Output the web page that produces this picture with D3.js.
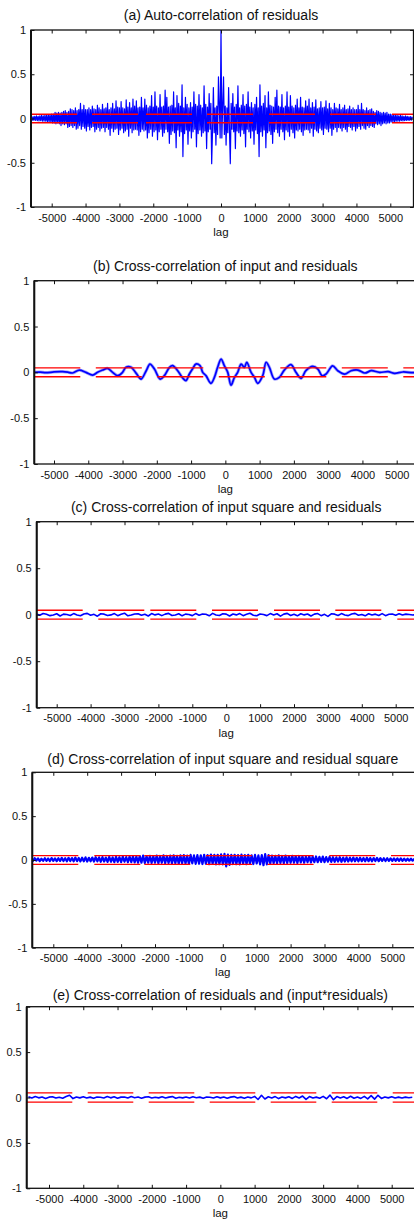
<!DOCTYPE html>
<html><head><meta charset="utf-8">
<script src="https://cdn.jsdelivr.net/npm/d3@7/dist/d3.min.js"></script>
<style>
html,body{margin:0;padding:0;background:#fff;}
svg{display:block;font-family:"Liberation Sans",Arial,sans-serif;}
</style></head>
<body>
<svg id="chart" width="414" height="1220"></svg>
<script>
// ---------------- DATA ----------------
const titles = [
  "(a) Auto-correlation of residuals",
  "(b) Cross-correlation of input and residuals",
  "(c) Cross-correlation of input square and residuals",
  "(d) Cross-correlation of input square and residual square",
  "(e) Cross-correlation of residuals and (input*residuals)"
];
const xTicks = [-5000,-4000,-3000,-2000,-1000,0,1000,2000,3000,4000,5000];
const yTicks = [-1,-0.5,0,0.5,1];
const yTickLabels = ["-1","-0.5","0","0.5","1"];
const yTickLabelsE = ["-1","0.5","0","0.5","1"];
const xLabel = "lag";
const confBound = [0.048, 0.048, 0.048, 0.05, 0.05];

// (a) auto-correlation (symmetric in lag): values for lag 0..5650, step 25
const acfStep = 25;
const acfHalf = [
 1.0,-0.22,0.15,0.47,-0.18,0.14,-0.3,0.12,-0.16,0.35,-0.13,-0.51,0.17,-0.12,0.28,-0.15,0.13,-0.34,0.16,-0.14,
 0.37,-0.16,0.12,-0.2,0.15,-0.13,0.27,-0.17,0.14,-0.32,0.16,-0.12,0.3,-0.15,0.13,-0.22,0.18,-0.14,0.12,-0.29,
 0.16,-0.13,0.24,-0.17,0.12,-0.43,0.38,-0.15,0.14,-0.2,0.17,-0.13,0.26,-0.33,0.12,-0.16,0.3,-0.14,0.15,-0.18,
 0.14,-0.28,0.13,-0.15,0.24,-0.12,0.32,-0.16,0.14,-0.2,0.13,-0.12,0.27,-0.15,0.12,-0.24,0.14,-0.13,0.3,-0.15,
 0.13,-0.2,0.26,-0.12,0.14,-0.16,0.12,-0.22,0.15,-0.13,0.22,-0.14,0.12,-0.12,0.24,-0.15,0.13,-0.19,0.12,-0.13,
 0.2,-0.12,0.14,-0.13,0.22,-0.16,0.12,-0.11,0.18,-0.2,0.13,-0.12,0.21,-0.14,0.11,-0.16,0.12,-0.11,0.19,-0.13,
 0.12,-0.18,0.13,-0.11,0.2,-0.12,0.11,-0.15,0.17,-0.11,0.12,-0.19,0.1,-0.12,0.17,-0.1,0.12,-0.15,0.11,-0.1,
 0.16,-0.11,0.1,-0.14,0.12,-0.1,0.15,-0.12,0.1,-0.15,0.11,-0.09,0.14,-0.1,0.1,-0.13,0.12,-0.09,0.1,-0.14,
 0.1,-0.11,0.15,-0.09,0.1,-0.12,0.17,-0.08,0.1,-0.11,0.09,-0.12,0.12,-0.08,0.09,-0.1,0.1,-0.08,0.11,-0.09,
 0.08,-0.1,0.07,-0.06,0.09,-0.07,0.08,-0.06,0.07,-0.08,0.06,-0.06,0.07,-0.05,0.06,-0.06,0.07,-0.05,0.05,-0.05,
 0.05,-0.04,0.045,-0.035,0.04,-0.04,0.035,-0.03,0.04,-0.03,0.03,-0.03,0.035,-0.025,0.03,-0.028,0.025,-0.025,0.03,-0.022,
 0.025,-0.022,0.022,-0.02,0.022,-0.018,0.02
];

// (b) input / residuals cross-correlation
const ccInLags = [-5620,-5400,-5240,-5000,-4750,-4600,-4460,-4260,-4070,-3870,-3730,-3580,-3440,-3290,-3140,-3000,-2900,-2750,-2600,-2460,-2310,-2200,-2070,-1900,-1780,-1630,-1540,-1390,-1245,-1150,-1050,-960,-860,-740,-660,-565,-420,-320,-225,-125,-30,70,165,265,360,460,555,625,750,850,945,1090,1190,1285,1430,1575,1720,1915,2060,2210,2350,2550,2700,2820,2940,3130,3280,3480,3670,3870,4070,4260,4500,4750,4940,5180,5470,5650];
const ccInValues = [0,0.003,-0.004,0.005,0.007,0.002,-0.007,0.025,0,-0.03,0,0.025,0.043,0,-0.036,0,0.055,0.055,-0.011,-0.073,0.018,0.09,0.036,-0.073,-0.036,0.055,0.073,0.018,-0.062,-0.09,-0.018,0.036,0.09,0.073,0,-0.036,-0.12,-0.055,0.055,0.145,0.073,0,-0.14,-0.055,0,0.09,0.055,0.11,0,-0.055,-0.12,-0.036,0.11,0.055,-0.073,-0.055,0.025,0.085,0,-0.065,0.018,0.065,0.036,-0.036,-0.018,0.07,0.018,-0.02,0.018,0.025,-0.007,0.018,0,0.007,-0.011,0.004,-0.004,0];

// (c),(e): lag start -5600, step 100
const ccStart = -5600, ccStep = 100;
const ccSqValues = [
 0.008,-0.006,0.012,0.004,-0.01,-0.004,0.01,-0.014,0.006,0.002,
 -0.008,0.012,-0.004,-0.012,0.008,0.014,-0.006,0.004,-0.016,0.01,
 0.006,-0.008,-0.002,0.012,-0.01,0.004,0.016,-0.012,-0.004,0.008,
 0.01,-0.006,0.004,-0.014,0.012,-0.002,0.008,-0.01,0.006,0.014,
 -0.008,-0.004,0.01,-0.012,0.006,0.002,-0.01,0.012,-0.006,0.008,
 0.004,-0.012,0.014,-0.004,-0.008,0.01,0.006,-0.014,0.008,-0.002,
 0.012,-0.01,0.004,0.016,-0.006,-0.012,0.008,0.002,-0.01,0.012,
 -0.004,0.01,-0.016,0.006,0.014,-0.008,0.004,-0.012,0.01,-0.002,
 0.008,-0.014,0.006,0.012,-0.01,0.004,-0.018,0.01,0.006,-0.008,
 0.012,-0.004,-0.01,0.008,0.014,-0.006,0.002,-0.012,0.01,-0.004,
 0.006,-0.008,0.012,-0.01,0.004,0.008,-0.006,0.01,-0.004,0.006,
 0.002,-0.004,0.003
];
const ccResInValues = [
 0.008,-0.006,0.01,-0.004,0.006,-0.01,0.004,0.008,-0.006,0.002,
 -0.008,0.01,0.025,-0.012,0.006,-0.004,0.008,-0.006,0.004,-0.008,
 0.006,0.002,-0.006,0.01,-0.004,0.008,-0.008,0.004,0.006,-0.006,
 0.01,-0.002,0.006,-0.008,0.004,0.008,-0.006,0.002,-0.004,0.008,
 -0.006,0.004,0.01,-0.008,0.002,-0.004,0.006,-0.006,0.008,-0.002,
 0.004,-0.008,0.006,0.002,-0.006,0.008,-0.004,0.006,-0.008,0.004,
 0.01,-0.006,0.004,-0.008,0.006,-0.004,0.012,-0.022,0.024,-0.016,
 0.008,-0.006,0.01,-0.012,0.006,-0.004,0.008,-0.01,0.012,-0.006,
 0.016,-0.02,0.01,-0.006,0.004,-0.008,0.012,-0.014,0.026,-0.024,
 0.01,-0.006,0.008,-0.01,0.014,-0.008,0.006,-0.01,0.012,-0.016,
 0.02,-0.018,0.024,-0.01,0.006,-0.004,0.008,-0.006,0.004,-0.006,
 0.004,-0.002,0.003
];
// (d): lag start -5650, step 50
const ccSqSqStart = -5650, ccSqSqStep = 50;
const ccSqSqValues = [
 0.015,-0.01,0.02,-0.008,0.018,-0.012,0.014,-0.01,0.02,-0.009,
 0.017,-0.012,0.022,-0.01,0.018,-0.013,0.02,-0.011,0.024,-0.012,
 0.02,-0.014,0.025,-0.012,0.022,-0.015,0.028,-0.013,0.024,-0.016,
 0.026,-0.015,0.03,-0.018,0.025,-0.014,0.028,-0.017,0.032,-0.016,
 0.03,-0.02,0.034,-0.018,0.028,-0.022,0.035,-0.02,0.03,-0.024,
 0.036,-0.022,0.032,-0.025,0.038,-0.02,0.034,-0.026,0.04,-0.024,
 0.042,-0.028,0.038,-0.032,0.045,-0.03,0.05,-0.034,0.044,-0.03,
 0.048,-0.035,0.042,-0.03,0.05,-0.038,0.046,-0.032,0.052,-0.036,
 0.046,-0.034,0.05,-0.04,0.054,-0.036,0.048,-0.042,0.052,-0.038,
 0.055,-0.04,0.05,-0.045,0.058,-0.038,0.052,-0.044,0.056,-0.042,
 0.054,-0.046,0.06,-0.042,0.056,-0.048,0.062,-0.044,0.058,-0.05,
 0.06,-0.048,0.064,-0.05,0.07,-0.072,0.062,-0.055,0.058,-0.046,
 0.06,-0.048,0.055,-0.05,0.062,-0.044,0.056,-0.048,0.06,-0.042,
 0.054,-0.046,0.058,-0.04,0.052,-0.05,0.056,-0.06,0.066,-0.05,
 0.055,-0.04,0.05,-0.036,0.048,-0.038,0.052,-0.034,0.046,-0.036,
 0.05,-0.034,0.045,-0.032,0.048,-0.03,0.044,-0.033,0.046,-0.028,
 0.042,-0.03,0.04,-0.026,0.044,-0.028,0.038,-0.025,0.04,-0.024,
 0.036,-0.022,0.038,-0.024,0.034,-0.02,0.036,-0.022,0.032,-0.02,
 0.03,-0.018,0.032,-0.02,0.028,-0.017,0.03,-0.018,0.027,-0.016,
 0.028,-0.015,0.025,-0.016,0.027,-0.014,0.024,-0.015,0.026,-0.013,
 0.023,-0.014,0.022,-0.012,0.024,-0.013,0.021,-0.011,0.02,-0.012,
 0.02,-0.01,0.019,-0.011,0.018,-0.01,0.017,-0.009,0.018,-0.01,
 0.016,-0.009,0.015,-0.008,0.015,-0.008,0.014
];

// ---------------- BUILD ----------------
const acfRight = acfHalf.map((v,i)=>({lag:acfStep*i, v}));
const seriesA = acfRight.slice(1).map(d=>({lag:-d.lag, v:d.v})).reverse().concat(acfRight);
const seriesB = ccInLags.map((l,i)=>({lag:l, v:ccInValues[i]}));
const mk = (arr, s0, st) => arr.map((v,i)=>({lag:s0+st*i, v}));
const allSeries = [seriesA, seriesB, mk(ccSqValues, ccStart, ccStep),
                   mk(ccSqSqValues, ccSqSqStart, ccSqSqStep), mk(ccResInValues, ccStart, ccStep)];

// layout per panel (pixels)
const layout = [
  {L:31,   R:413.5, T:30,    B:207,   x0:51.7, x1:390.3, titleY:15,  lagY:232, dash:"46,15,46,8,46,15,46,16,46,15,46,16,46,15", sw:1.2},
  {L:34.3, R:418,   T:280.7, B:464,   x0:54,   x1:396.7, titleY:266, lagY:489, dash:"46,15.5", sw:1.7},
  {L:36.7, R:418,   T:521.7, B:707.7, x0:56.7, x1:395.7, titleY:507, lagY:732.7, dash:"46,15.6,46,6,46,15.7,46,16,46,15.3,46,16", sw:1.6},
  {L:32.3, R:418,   T:772.3, B:947.7, x0:53.3, x1:392.3, titleY:759, lagY:971.7, dash:"46,16,46,4,46,15.7,46,15.6,46,15.7,46,15.7", sw:2.2},
  {L:26.7, R:418,   T:1006.7,B:1188.3,x0:49,   x1:391.7, titleY:995, lagY:1213, dash:"45.6,15.4", sw:1.6}
];

const svg = d3.select("#chart");
const ink = "#111";
const font = '"Liberation Sans",Arial,sans-serif';

layout.forEach((p, k) => {
  const x = d3.scaleLinear().domain([-5000, 5000]).range([p.x0, p.x1]);
  const y = d3.scaleLinear().domain([-1, 1]).range([p.B, p.T]);
  const g = svg.append("g");

  const clipId = "clip" + k;
  svg.append("clipPath").attr("id", clipId)
    .append("rect").attr("x", p.L).attr("y", p.T).attr("width", p.R - p.L).attr("height", p.B - p.T);

  const plot = g.append("g").attr("clip-path", `url(#${clipId})`);
  const line = d3.line().x(d => x(d.lag)).y(d => y(d.v));
  if (k === 1) line.curve(d3.curveCatmullRom.alpha(0.5));

  if (k === 1) {
    plot.append("path").datum(allSeries[k]).attr("d", line)
      .attr("fill", "none").attr("stroke", "#a8a8ff").attr("stroke-width", 3.2).attr("stroke-linejoin", "round");
  }
  plot.append("path").datum(allSeries[k]).attr("d", line)
    .attr("fill", "none").attr("stroke", "#0000ff").attr("stroke-width", p.sw).attr("stroke-linejoin", "round");

  // confidence bounds
  [confBound[k], -confBound[k]].forEach(b => {
    plot.append("line")
      .attr("x1", p.L).attr("x2", p.R).attr("y1", y(b)).attr("y2", y(b))
      .attr("stroke", "#ff0000").attr("stroke-width", 1.3)
      .attr("stroke-dasharray", p.dash);
  });

  // axes
  const bottom = d3.axisBottom(x).tickValues(xTicks).tickSizeInner(-3.5).tickSizeOuter(0).tickPadding(7)
    .tickFormat(d => String(d));
  const top = d3.axisTop(x).tickValues(xTicks).tickSizeInner(-3.5).tickSizeOuter(0).tickFormat("");
  const labs = k === 4 ? yTickLabelsE : yTickLabels;
  const left = d3.axisLeft(y).tickValues(yTicks).tickSizeInner(-3.5).tickSizeOuter(0).tickPadding(5)
    .tickFormat((d, i) => labs[i]);
  const right = d3.axisRight(y).tickValues(yTicks).tickSizeInner(-3.5).tickSizeOuter(0).tickFormat("");

  const axStyle = sel => {
    sel.select(".domain").remove();
    sel.selectAll("line").attr("stroke", ink).attr("stroke-width", 1);
    sel.selectAll("text").attr("fill", ink).style("font-size", "11px").style("font-family", font);
  };
  g.append("g").attr("transform", `translate(0,${p.B})`).call(bottom).call(axStyle);
  g.append("g").attr("transform", `translate(0,${p.T})`).call(top).call(axStyle);
  g.append("g").attr("transform", `translate(${p.L},0)`).call(left).call(axStyle);
  g.append("g").attr("transform", `translate(${p.R},0)`).call(right).call(axStyle);

  // box
  g.append("rect").attr("x", p.L).attr("y", p.T).attr("width", p.R - p.L).attr("height", p.B - p.T)
    .attr("fill", "none").attr("stroke", ink).attr("stroke-width", 1.3);
  g.append("line").attr("x1", p.L).attr("x2", p.L).attr("y1", p.T).attr("y2", p.B)
    .attr("stroke", ink).attr("stroke-width", 2);

  // title
  g.append("text").attr("x", x(0)).attr("y", p.titleY).attr("dy", "0.35em")
    .attr("text-anchor", "middle").attr("fill", ink).style("font-size", "14px").style("font-family", font).text(titles[k]);
  // x label
  g.append("text").attr("x", x(0)).attr("y", p.lagY).attr("dy", "0.35em")
    .attr("text-anchor", "middle").attr("fill", ink).style("font-size", "11.5px").style("font-family", font).text(xLabel);
});
</script>
</body></html>
